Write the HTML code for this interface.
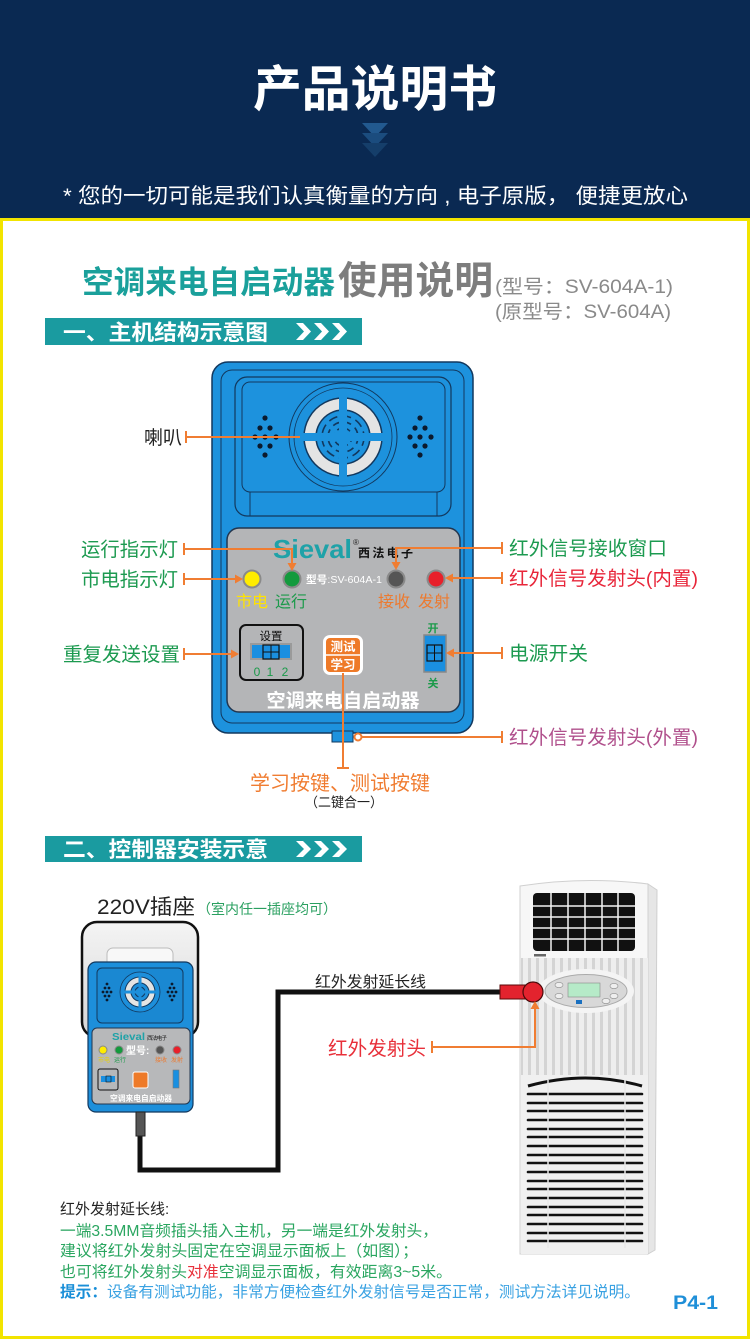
<!DOCTYPE html>
<html><head><meta charset="utf-8">
<style>
html,body{margin:0;padding:0;background:#fff;width:750px;height:1339px;overflow:hidden;}
svg{display:block}
text{font-family:"Liberation Sans","Noto Sans CJK SC",sans-serif;}
</style></head><body>
<svg width="750" height="1339" viewBox="0 0 750 1339" xmlns="http://www.w3.org/2000/svg">
<defs>
 <pattern id="stripes" x="0" y="0" width="8" height="10" patternUnits="userSpaceOnUse">
  <rect width="8" height="10" fill="#eeeeee"/>
  <rect x="0" width="3" height="10" fill="#d4d4d4"/>
 </pattern>
 <linearGradient id="sock" x1="0" y1="0" x2="0" y2="1">
  <stop offset="0" stop-color="#f4f4f4"/><stop offset="1" stop-color="#d6d6d6"/>
 </linearGradient>
</defs>
<rect width="750" height="1339" fill="#fff"/>

<!-- header -->
<rect width="750" height="219" fill="#0a2952"/>
<text x="375" y="106" text-anchor="middle" font-size="49" font-weight="bold" fill="#fff" textLength="244" lengthAdjust="spacingAndGlyphs">产品说明书</text>
<polygon points="362,123 388,123 375,137" fill="#22598f"/>
<polygon points="362,133 388,133 375,147" fill="#1b4c7e"/>
<polygon points="362,143 388,143 375,157" fill="#153e6a"/>
<text x="63" y="203" font-size="21" fill="#fff" textLength="625" lengthAdjust="spacingAndGlyphs">* 您的一切可能是我们认真衡量的方向 , 电子原版， 便捷更放心</text>

<!-- yellow frame -->
<rect x="1.5" y="219.5" width="747" height="1118" fill="none" stroke="#f2e400" stroke-width="3"/>

<!-- title -->
<text x="82" y="293" font-size="31.5" font-weight="bold" fill="#1aa09b" textLength="253" lengthAdjust="spacingAndGlyphs">空调来电自启动器</text>
<text x="338" y="294" font-size="38.5" font-weight="bold" fill="#7d7d7d" textLength="155" lengthAdjust="spacingAndGlyphs">使用说明</text>
<text x="495" y="293" font-size="19" fill="#8a8a8a" textLength="178" lengthAdjust="spacingAndGlyphs">(型号：SV-604A-1)</text>
<text x="495" y="318" font-size="19" fill="#8a8a8a" textLength="176" lengthAdjust="spacingAndGlyphs">(原型号：SV-604A)</text>

<!-- section bar 1 -->
<rect x="45" y="318" width="317" height="27" fill="#1a9ba0"/>
<text x="63" y="340" font-size="21.5" font-weight="bold" fill="#fff" textLength="205" lengthAdjust="spacingAndGlyphs">一、主机结构示意图</text>
<g fill="#fff">
 <polygon points="296,323 303,323 311,331.5 303,340 296,340 304,331.5"/>
 <polygon points="314,323 321,323 329,331.5 321,340 314,340 322,331.5"/>
 <polygon points="332,323 339,323 347,331.5 339,340 332,340 340,331.5"/>
</g>

<!-- main device -->
<rect x="212" y="362" width="261" height="371" rx="16" fill="#1d92dd" stroke="#12385e" stroke-width="1.5"/>
<rect x="221" y="370" width="243" height="353" rx="11" fill="none" stroke="#12385e" stroke-width="1"/>
<rect x="332" y="731" width="21" height="11" fill="#1d92dd" stroke="#12385e" stroke-width="1"/>
<rect x="235" y="377" width="216" height="139" rx="12" fill="#1d92dd" stroke="#12385e" stroke-width="1.2"/>
<rect x="242" y="382" width="203" height="110" rx="8" fill="#1d92dd" stroke="#12385e" stroke-width="1"/>
<line x1="250" y1="492" x2="250" y2="516" stroke="#12385e" stroke-width="1"/>
<line x1="437" y1="492" x2="437" y2="516" stroke="#12385e" stroke-width="1"/>
<!-- speaker -->
<circle cx="343" cy="437" r="54" fill="#1d92dd" stroke="#12385e" stroke-width="1"/>
<circle cx="343" cy="437" r="49" fill="none" stroke="#12385e" stroke-width="0.8"/>
<path d="M343,398 a39,39 0 1,0 0.01,0 Z M343,410 a27,27 0 1,1 -0.01,0 Z" fill="#e4e4e4" stroke="#12385e" stroke-width="1.5" fill-rule="evenodd"/>
<circle cx="343" cy="437" r="21" fill="none" stroke="#12385e" stroke-width="1.6" stroke-dasharray="9 5"/>
<circle cx="343" cy="437" r="15" fill="none" stroke="#12385e" stroke-width="1.6" stroke-dasharray="7 5"/>
<circle cx="343" cy="437" r="9" fill="none" stroke="#12385e" stroke-width="1.6" stroke-dasharray="5 4"/>
<rect x="339" y="396" width="8" height="82" fill="#1d92dd"/>
<rect x="302" y="433" width="82" height="8" fill="#1d92dd"/>
<!-- dot clusters -->
<g fill="#0b1a2e">
 <circle cx="265" cy="418" r="2.6"/><circle cx="260" cy="428" r="2.6"/><circle cx="270" cy="428" r="2.6"/>
 <circle cx="255" cy="437" r="2.6"/><circle cx="265" cy="437" r="2.6"/><circle cx="276" cy="437" r="2.6"/>
 <circle cx="260" cy="446" r="2.6"/><circle cx="270" cy="446" r="2.6"/><circle cx="265" cy="455" r="2.6"/>
 <circle cx="420" cy="418" r="2.6"/><circle cx="415" cy="428" r="2.6"/><circle cx="425" cy="428" r="2.6"/>
 <circle cx="410" cy="437" r="2.6"/><circle cx="420" cy="437" r="2.6"/><circle cx="431" cy="437" r="2.6"/>
 <circle cx="415" cy="446" r="2.6"/><circle cx="425" cy="446" r="2.6"/><circle cx="420" cy="455" r="2.6"/>
</g>
<!-- gray panel -->
<rect x="227" y="528" width="233" height="184" rx="12" fill="#b4b5b7" stroke="#23364f" stroke-width="1.5"/>
<text x="273" y="558" font-size="26" font-weight="bold" fill="#1fa2a8" textLength="79" lengthAdjust="spacingAndGlyphs">Sieval</text>
<text x="353" y="545" font-size="8" fill="#222">®</text>
<text x="358" y="557" font-size="12" font-weight="bold" fill="#111" textLength="55">西法电子</text>
<circle cx="252" cy="579" r="8.5" fill="#ffec00" stroke="#8a8a8a" stroke-width="2"/>
<circle cx="292" cy="579" r="8.5" fill="#139a3d" stroke="#8a8a8a" stroke-width="2"/>
<circle cx="396" cy="579" r="8.5" fill="#555" stroke="#8a8a8a" stroke-width="2"/>
<circle cx="436" cy="579" r="8.5" fill="#e8202a" stroke="#8a8a8a" stroke-width="2"/>
<text x="306" y="583" font-size="10.5" fill="#fff" textLength="76" lengthAdjust="spacingAndGlyphs"><tspan font-weight="bold">型号</tspan>:SV-604A-1</text>
<text x="236" y="607" font-size="16" fill="#ffe300" textLength="32">市电</text>
<text x="275" y="607" font-size="16" fill="#1b9a4a" textLength="32">运行</text>
<text x="378" y="607" font-size="16" fill="#ec7a30" textLength="32">接收</text>
<text x="418" y="607" font-size="16" fill="#ec7a30" textLength="32">发射</text>
<!-- setting -->
<rect x="240" y="625" width="63" height="55" rx="6" fill="none" stroke="#111" stroke-width="2"/>
<text x="271" y="640" font-size="11.5" fill="#111" text-anchor="middle">设置</text>
<rect x="250" y="643" width="42" height="17" fill="#9a9a9a"/>
<rect x="252" y="645" width="38" height="13" fill="#1a8fe0"/>
<rect x="263" y="645" width="16" height="14" fill="#1a8fe0" stroke="#111" stroke-width="1.2"/>
<line x1="271" y1="645" x2="271" y2="659" stroke="#111" stroke-width="1"/>
<line x1="263" y1="652" x2="279" y2="652" stroke="#111" stroke-width="1"/>
<text x="257" y="676" font-size="12" fill="#1b9a4a" text-anchor="middle">0</text>
<text x="270" y="676" font-size="12" fill="#1b9a4a" text-anchor="middle">1</text>
<text x="285" y="676" font-size="12" fill="#1b9a4a" text-anchor="middle">2</text>
<!-- button -->
<rect x="323" y="635" width="40" height="40" rx="7" fill="#fff"/>
<rect x="326" y="638" width="34" height="34" rx="4" fill="#ee7a28"/>
<line x1="326" y1="655" x2="360" y2="655" stroke="#fff" stroke-width="1.5"/>
<text x="343" y="651" font-size="12.5" font-weight="bold" fill="#fff" text-anchor="middle">测试</text>
<text x="343" y="669" font-size="12.5" font-weight="bold" fill="#fff" text-anchor="middle">学习</text>
<!-- power switch -->
<text x="433" y="632" font-size="11" font-weight="bold" fill="#1b9a4a" text-anchor="middle">开</text>
<rect x="424" y="635" width="22" height="37" fill="#1a8fe0" stroke="#888" stroke-width="1.5"/>
<rect x="427" y="645" width="15" height="16" fill="#1a8fe0" stroke="#111" stroke-width="1.2"/>
<line x1="434.5" y1="645" x2="434.5" y2="661" stroke="#111" stroke-width="1"/>
<line x1="427" y1="653" x2="442" y2="653" stroke="#111" stroke-width="1"/>
<text x="433" y="687" font-size="11" font-weight="bold" fill="#1b9a4a" text-anchor="middle">关</text>
<text x="343" y="707" font-size="19" font-weight="bold" fill="#fff" text-anchor="middle" textLength="153" lengthAdjust="spacingAndGlyphs">空调来电自启动器</text>

<!-- labels -->
<text x="182" y="444" font-size="19" fill="#222" text-anchor="end">喇叭</text>
<text x="81" y="556" font-size="19.5" fill="#1c9a50" textLength="97" lengthAdjust="spacingAndGlyphs">运行指示灯</text>
<text x="81" y="586" font-size="19.5" fill="#1c9a50" textLength="97" lengthAdjust="spacingAndGlyphs">市电指示灯</text>
<text x="63" y="661" font-size="19.5" fill="#1c9a50" textLength="117" lengthAdjust="spacingAndGlyphs">重复发送设置</text>
<text x="509" y="555" font-size="19.5" fill="#1c9a50" textLength="158" lengthAdjust="spacingAndGlyphs">红外信号接收窗口</text>
<text x="509" y="585" font-size="19.5" fill="#e8263a" textLength="189" lengthAdjust="spacingAndGlyphs">红外信号发射头(内置)</text>
<text x="509" y="660" font-size="19.5" fill="#1c9a50" textLength="79" lengthAdjust="spacingAndGlyphs">电源开关</text>
<text x="509" y="744" font-size="19.5" fill="#b0508c" textLength="189" lengthAdjust="spacingAndGlyphs">红外信号发射头(外置)</text>
<text x="250" y="790" font-size="20" fill="#f07d32" textLength="180" lengthAdjust="spacingAndGlyphs">学习按键、测试按键</text>
<text x="305" y="807" font-size="13.5" fill="#222" textLength="78" lengthAdjust="spacingAndGlyphs">（二键合一）</text>

<!-- section bar 2 -->
<rect x="45" y="836" width="317" height="26" fill="#1a9ba0"/>
<text x="63" y="857" font-size="21.5" font-weight="bold" fill="#fff" textLength="205" lengthAdjust="spacingAndGlyphs">二、控制器安装示意</text>
<g fill="#fff">
 <polygon points="296,841 303,841 311,849 303,857 296,857 304,849"/>
 <polygon points="314,841 321,841 329,849 321,857 314,857 322,849"/>
 <polygon points="332,841 339,841 347,849 339,857 332,857 340,849"/>
</g>

<!-- socket text -->
<text x="97" y="914" font-size="21" fill="#222" textLength="98" lengthAdjust="spacingAndGlyphs">220V插座</text>
<text x="197" y="914" font-size="14" fill="#2aa060" textLength="140" lengthAdjust="spacingAndGlyphs">（室内任一插座均可）</text>

<!-- socket -->
<rect x="82" y="922" width="116" height="115" rx="15" fill="url(#sock)" stroke="#111" stroke-width="2.5"/>
<rect x="107" y="948" width="66" height="40" rx="6" fill="#f8f8f8" stroke="#bbb" stroke-width="1"/>
<!-- small device -->
<rect x="88" y="962" width="105" height="150" rx="8" fill="#1d8fdb" stroke="#12385e" stroke-width="1.2"/>
<rect x="97" y="968" width="86" height="55" rx="5" fill="#1a88d2" stroke="#12385e" stroke-width="1"/>
<circle cx="140" cy="992" r="20" fill="#1d8fdb" stroke="#12385e" stroke-width="0.8"/>
<path d="M140,977 a15,15 0 1,0 0.01,0 Z M140,983 a9,9 0 1,1 -0.01,0 Z" fill="#e4e4e4" stroke="#12385e" stroke-width="1" fill-rule="evenodd"/>
<circle cx="140" cy="992" r="5" fill="none" stroke="#12385e" stroke-width="1"/>
<rect x="138.5" y="975" width="3" height="34" fill="#1d8fdb"/>
<rect x="123" y="990.5" width="34" height="3" fill="#1d8fdb"/>
<g fill="#0b1a2e">
 <circle cx="107" cy="984" r="1.4"/><circle cx="105" cy="988" r="1.4"/><circle cx="109" cy="988" r="1.4"/>
 <circle cx="103" cy="992" r="1.4"/><circle cx="107" cy="992" r="1.4"/><circle cx="111" cy="992" r="1.4"/>
 <circle cx="105" cy="996" r="1.4"/><circle cx="109" cy="996" r="1.4"/><circle cx="107" cy="1000" r="1.4"/>
 <circle cx="172" cy="984" r="1.4"/><circle cx="170" cy="988" r="1.4"/><circle cx="174" cy="988" r="1.4"/>
 <circle cx="168" cy="992" r="1.4"/><circle cx="172" cy="992" r="1.4"/><circle cx="176" cy="992" r="1.4"/>
 <circle cx="170" cy="996" r="1.4"/><circle cx="174" cy="996" r="1.4"/><circle cx="172" cy="1000" r="1.4"/>
</g>
<rect x="92" y="1028" width="98" height="76" rx="5" fill="#b7b8ba" stroke="#23364f" stroke-width="1"/>
<text x="112" y="1040" font-size="10" font-weight="bold" fill="#1fa2a8" textLength="33" lengthAdjust="spacingAndGlyphs">Sieval</text>
<text x="147" y="1040" font-size="5.5" fill="#111" textLength="20">西法电子</text>
<circle cx="103" cy="1050" r="4" fill="#ffec00" stroke="#888" stroke-width="1"/>
<circle cx="119" cy="1050" r="4" fill="#139a3d" stroke="#888" stroke-width="1"/>
<circle cx="160" cy="1050" r="4" fill="#555" stroke="#888" stroke-width="1"/>
<circle cx="177" cy="1050" r="4" fill="#e8202a" stroke="#888" stroke-width="1"/>
<text x="126" y="1054" font-size="10" font-weight="bold" fill="#fff">型号:</text>
<text x="98" y="1062" font-size="6" fill="#e8d000">市电</text>
<text x="114" y="1062" font-size="6" fill="#1b9a4a">运行</text>
<text x="155" y="1062" font-size="6" fill="#ec7a30">接收</text>
<text x="171" y="1062" font-size="6" fill="#ec7a30">发射</text>
<rect x="98" y="1069" width="20" height="21" rx="2" fill="none" stroke="#111" stroke-width="1"/>
<rect x="101" y="1076" width="14" height="6" fill="#1a8fe0"/>
<rect x="106" y="1076" width="5" height="6" fill="#1a8fe0" stroke="#111" stroke-width="0.6"/>
<rect x="133" y="1072" width="15" height="16" rx="2" fill="#ee7a28" stroke="#fff" stroke-width="1"/>
<rect x="173" y="1070" width="6" height="18" fill="#1a8fe0" stroke="#777" stroke-width="0.6"/>
<text x="141" y="1101" font-size="7.8" font-weight="bold" fill="#fff" text-anchor="middle" textLength="62" lengthAdjust="spacingAndGlyphs">空调来电自启动器</text>
<!-- plug + cable -->
<path d="M140,1135 V1170 H278 V992 H502" fill="none" stroke="#111" stroke-width="5"/>
<rect x="136" y="1112" width="9" height="24" fill="#555" stroke="#222" stroke-width="1"/>

<!-- AC unit -->
<polygon points="648,884 657,890 655,1250 648,1254" fill="#e6e6e6" stroke="#cfcfcf" stroke-width="1"/>
<path d="M520,886 Q584,876 648,884 L648,1254 L520,1254 Z" fill="#f7f7f7" stroke="#d0d0d0" stroke-width="1"/>
<rect x="533" y="893" width="102" height="58" rx="4" fill="#111"/>
<g stroke="#f2f2f2" stroke-width="1.5">
 <line x1="551" y1="893" x2="551" y2="951"/><line x1="568" y1="893" x2="568" y2="951"/>
 <line x1="585" y1="893" x2="585" y2="951"/><line x1="602" y1="893" x2="602" y2="951"/>
 <line x1="618" y1="893" x2="618" y2="951"/>
 <line x1="533" y1="906" x2="635" y2="906"/><line x1="533" y1="917" x2="635" y2="917"/>
 <line x1="533" y1="928" x2="635" y2="928"/><line x1="533" y1="939" x2="635" y2="939"/>
</g>
<rect x="534" y="954" width="12" height="2.5" fill="#666"/>
<rect x="521" y="958" width="127" height="117" fill="url(#stripes)"/>
<ellipse cx="586" cy="991" rx="48" ry="22" fill="#f4f4f4"/>
<ellipse cx="586" cy="991" rx="41" ry="16.5" fill="#d8d8d8" stroke="#aaa" stroke-width="1"/>
<rect x="568" y="983" width="32" height="14" fill="#b6eac8" stroke="#888" stroke-width="0.6"/>
<g fill="#eee" stroke="#888" stroke-width="0.6">
 <ellipse cx="559" cy="985" rx="4" ry="2.6"/><ellipse cx="559" cy="996" rx="4" ry="2.6"/>
 <ellipse cx="614" cy="986" rx="4" ry="2.6"/><ellipse cx="614" cy="996" rx="4" ry="2.6"/>
 <ellipse cx="606" cy="1001" rx="4" ry="2.6"/>
</g>
<rect x="576" y="1000" width="6" height="4" fill="#1a70c0"/>
<rect x="521" y="1075" width="127" height="179" fill="#f0f0f0"/>
<path d="M528,1086 Q586,1070 642,1086" fill="none" stroke="#111" stroke-width="3"/>
<g stroke="#111" stroke-width="2.6" stroke-linecap="round">
 <line x1="528" y1="1094" x2="642" y2="1094"/><line x1="528" y1="1103" x2="642" y2="1103"/>
 <line x1="528" y1="1111" x2="642" y2="1111"/><line x1="528" y1="1120" x2="642" y2="1120"/>
 <line x1="528" y1="1129" x2="642" y2="1129"/><line x1="528" y1="1137" x2="642" y2="1137"/>
 <line x1="528" y1="1146" x2="642" y2="1146"/><line x1="528" y1="1155" x2="642" y2="1155"/>
 <line x1="528" y1="1163" x2="642" y2="1163"/><line x1="528" y1="1172" x2="642" y2="1172"/>
 <line x1="528" y1="1181" x2="642" y2="1181"/><line x1="528" y1="1189" x2="642" y2="1189"/>
 <line x1="528" y1="1198" x2="642" y2="1198"/><line x1="528" y1="1207" x2="642" y2="1207"/>
 <line x1="528" y1="1215" x2="642" y2="1215"/><line x1="528" y1="1224" x2="642" y2="1224"/>
 <line x1="528" y1="1233" x2="642" y2="1233"/><line x1="528" y1="1241" x2="642" y2="1241"/>
</g>
<line x1="548" y1="1080" x2="548" y2="1248" stroke="#e8e8e8" stroke-width="1.5"/>
<line x1="625" y1="1080" x2="625" y2="1248" stroke="#e8e8e8" stroke-width="1.5"/>

<!-- red IR head -->
<rect x="500" y="985" width="32" height="14" fill="#e3232e" stroke="#5a0a0a" stroke-width="1"/>
<circle cx="533" cy="992" r="10" fill="#e3232e" stroke="#4a0a0a" stroke-width="1.2"/>

<text x="315" y="987" font-size="15.5" fill="#222" textLength="111" lengthAdjust="spacingAndGlyphs">红外发射延长线</text>
<text x="328" y="1055" font-size="19.5" fill="#e8303a" textLength="98" lengthAdjust="spacingAndGlyphs">红外发射头</text>

<!-- callouts (drawn on top) -->
<g stroke="#f07d32" stroke-width="2" fill="none">
 <line x1="186" y1="431" x2="186" y2="443"/><line x1="186" y1="437" x2="300" y2="437"/>
 <line x1="184" y1="543" x2="184" y2="555"/><polyline points="184,549 292,549 292,564"/>
 <line x1="184" y1="573" x2="184" y2="585"/><line x1="184" y1="579" x2="237" y2="579"/>
 <line x1="184" y1="648" x2="184" y2="660"/><line x1="184" y1="654" x2="233" y2="654"/>
 <line x1="502" y1="542" x2="502" y2="554"/><polyline points="502,548 396,548 396,563"/>
 <line x1="502" y1="572" x2="502" y2="584"/><line x1="502" y1="578" x2="451" y2="578"/>
 <line x1="502" y1="647" x2="502" y2="659"/><line x1="502" y1="653" x2="452" y2="653"/>
 <line x1="502" y1="731" x2="502" y2="743"/><line x1="502" y1="737" x2="362" y2="737"/>
 <line x1="343" y1="673" x2="343" y2="768"/><line x1="337" y1="768" x2="349" y2="768"/>
 <line x1="432" y1="1041" x2="432" y2="1053"/><polyline points="432,1047 535,1047 535,1007"/>
</g>
<circle cx="358" cy="737" r="3.5" fill="#fff" stroke="#f07d32" stroke-width="2"/>
<g fill="#f07d32">
 <polygon points="287.5,563 292,571 296.5,563"/>
 <polygon points="235,574.5 243,579 235,583.5"/>
 <polygon points="231,649.5 239,654 231,658.5"/>
 <polygon points="391.5,562 396,570 400.5,562"/>
 <polygon points="453,573.5 445,578 453,582.5"/>
 <polygon points="454,648.5 446,653 454,657.5"/>
 <polygon points="530.5,1009 535,1001 539.5,1009"/>
</g>

<!-- bottom text -->
<text x="60" y="1214" font-size="15" fill="#222">红外发射延长线:</text>
<text x="60" y="1236" font-size="15.6" fill="#2aa660" textLength="378" lengthAdjust="spacingAndGlyphs">一端3.5MM音频插头插入主机，另一端是红外发射头，</text>
<text x="60" y="1256" font-size="15.6" fill="#2aa660" textLength="358" lengthAdjust="spacingAndGlyphs">建议将红外发射头固定在空调显示面板上（如图）；</text>
<text x="60" y="1277" font-size="15.6" fill="#2aa660" textLength="392" lengthAdjust="spacingAndGlyphs">也可将红外发射头<tspan fill="#e8303a">对准</tspan>空调显示面板，有效距离3~5米。</text>
<text x="60" y="1297" font-size="15.6" fill="#3aa2e2" textLength="580" lengthAdjust="spacingAndGlyphs"><tspan font-weight="bold" fill="#1a8fd8">提示：</tspan>设备有测试功能，非常方便检查红外发射信号是否正常，测试方法详见说明。</text>
<text x="673" y="1309" font-size="19" font-weight="bold" fill="#1f8fd8" textLength="45" lengthAdjust="spacingAndGlyphs">P4-1</text>
</svg>
</body></html>
